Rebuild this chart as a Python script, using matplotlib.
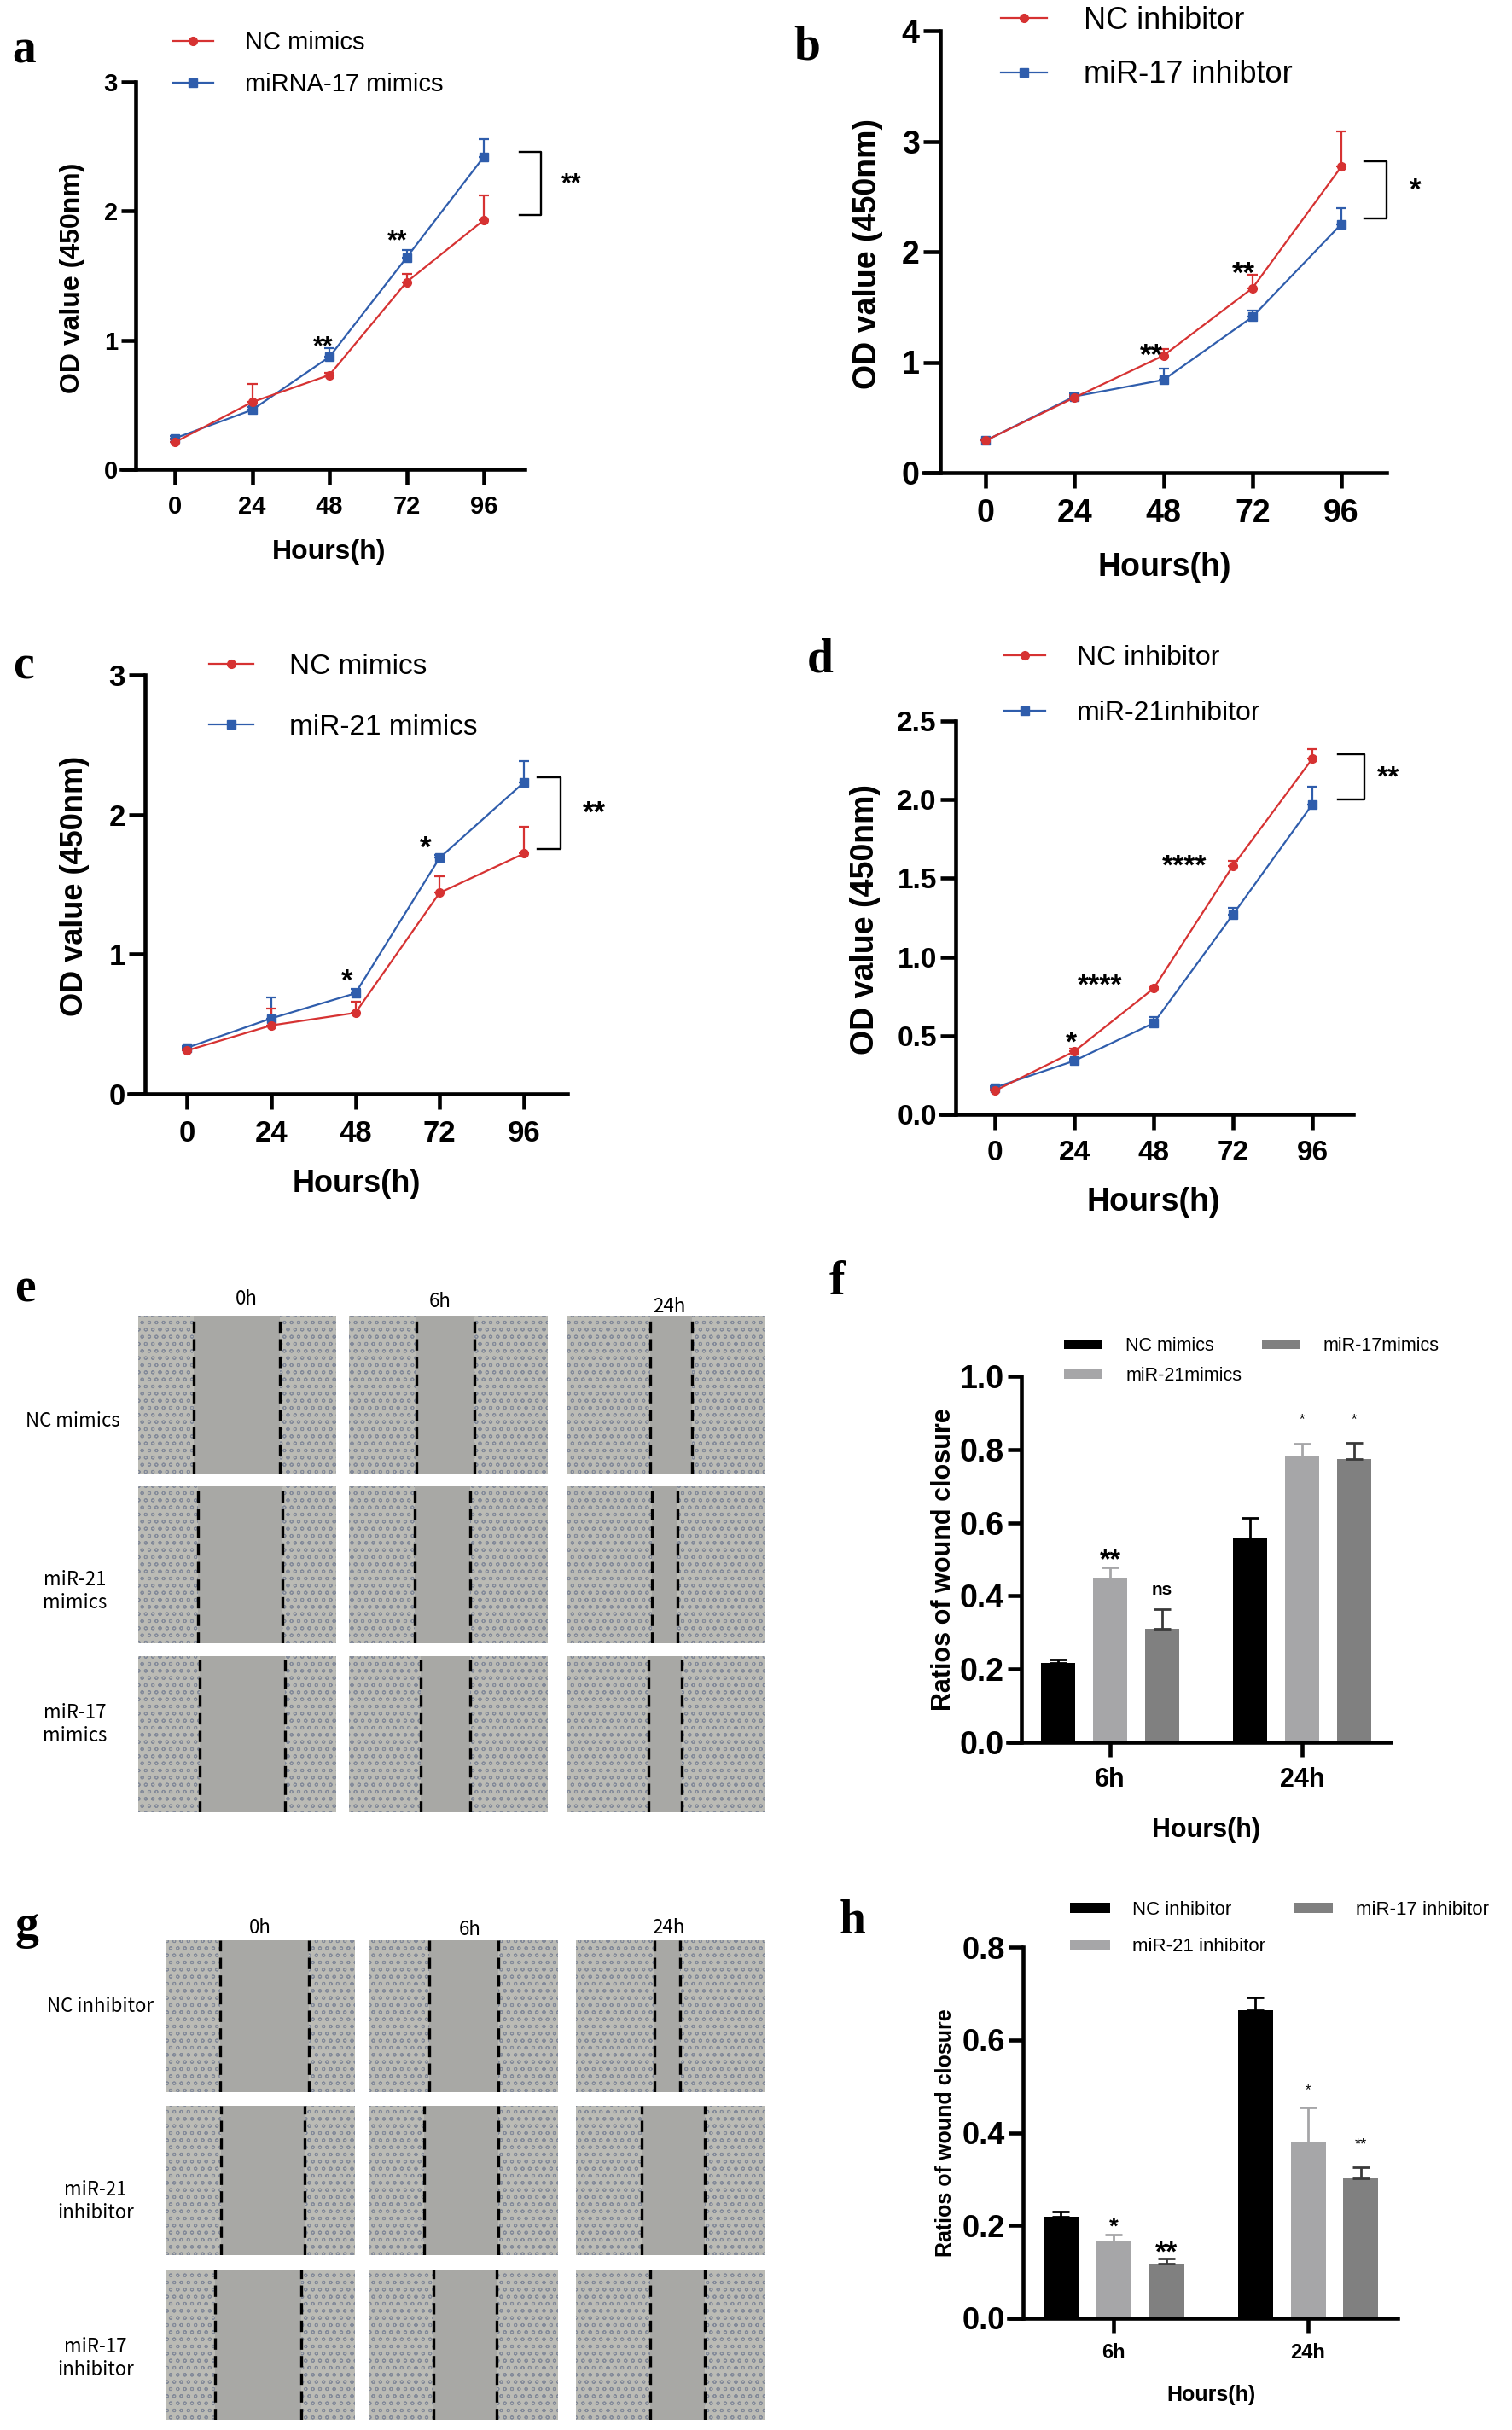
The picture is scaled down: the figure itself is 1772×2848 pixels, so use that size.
import matplotlib
matplotlib.use('Agg')
import matplotlib.pyplot as plt
from matplotlib.patches import Rectangle
import numpy as np

W, H = 1772, 2848

# CCK-8 time points
hours = [0, 24, 48, 72, 96]

# panel a: NC mimics vs miRNA-17 mimics
a_names = ['NC mimics', 'miRNA-17 mimics']
a_nc = [0.21, 0.52, 0.73, 1.45, 1.93]
a_nc_sd = [0.02, 0.14, 0.02, 0.06, 0.19]
a_mi = [0.24, 0.46, 0.87, 1.64, 2.42]
a_mi_sd = [0.02, 0.02, 0.07, 0.06, 0.14]
a_marks = [(46, 1.01, '**'), (69, 1.83, '**')]

# panel b: NC inhibitor vs miR-17 inhibitor
b_names = ['NC inhibitor', 'miR-17 inhibtor']
b_nc = [0.29, 0.68, 1.06, 1.67, 2.77]
b_nc_sd = [0.01, 0.02, 0.06, 0.12, 0.32]
b_mi = [0.29, 0.69, 0.84, 1.41, 2.25]
b_mi_sd = [0.01, 0.03, 0.10, 0.06, 0.14]
b_marks = [(44.7, 1.14, '**'), (69.6, 1.88, '**')]

# panel c: NC mimics vs miR-21 mimics
c_names = ['NC mimics', 'miR-21 mimics']
c_nc = [0.31, 0.49, 0.58, 1.44, 1.72]
c_nc_sd = [0.01, 0.12, 0.08, 0.12, 0.19]
c_mi = [0.33, 0.54, 0.72, 1.69, 2.23]
c_mi_sd = [0.01, 0.15, 0.03, 0.02, 0.15]
c_marks = [(45.5, 0.87, '*'), (68, 1.82, '*')]

# panel d: NC inhibitor vs miR-21 inhibitor
d_names = ['NC inhibitor', 'miR-21inhibitor']
d_nc = [0.15, 0.40, 0.80, 1.58, 2.26]
d_nc_sd = [0.01, 0.02, 0.01, 0.03, 0.06]
d_mi = [0.17, 0.34, 0.58, 1.27, 1.97]
d_mi_sd = [0.01, 0.01, 0.04, 0.04, 0.11]
d_marks = [(23, 0.51, '*'), (31.8, 0.87, '****'), (57.2, 1.63, '****')]

# wound closure bars
groups = ['6h', '24h']
f_names = ['NC mimics', 'miR-21mimics', 'miR-17mimics']
f_vals = [[0.216, 0.558], [0.447, 0.780], [0.310, 0.773]]
f_sds = [[0.011, 0.056], [0.030, 0.037], [0.053, 0.045]]
f_marks = [(0, 1, 0.52, '**', 23, 'bold'), (0, 2, 0.417, 'ns', 15, 'bold'),
           (1, 1, 0.895, '*', 12, 'normal'), (1, 2, 0.895, '*', 12, 'normal')]

h_names = ['NC inhibitor', 'miR-21 inhibitor', 'miR-17 inhibitor']
h_vals = [[0.218, 0.663], [0.166, 0.379], [0.118, 0.301]]
h_sds = [[0.011, 0.029], [0.014, 0.076], [0.011, 0.025]]
h_marks = [(0, 1, 0.213, '*', 20, 'bold'), (0, 2, 0.16, '**', 24, 'bold'),
           (1, 1, 0.502, '*', 12, 'normal'), (1, 2, 0.384, '**', 13, 'normal')]

# scratch photos: time columns, row names, wound edges as fraction of width
photo_times = ['0h', '6h', '24h']
e_rows = ['NC mimics', 'miR-21\nmimics', 'miR-17\nmimics']
e_gaps = [[(0.28, 0.715), (0.34, 0.63), (0.42, 0.63)],
          [(0.30, 0.73), (0.33, 0.61), (0.43, 0.56)],
          [(0.31, 0.74), (0.36, 0.61), (0.41, 0.58)]]
g_rows = ['NC inhibitor', 'miR-21\ninhibitor', 'miR-17\ninhibitor']
g_gaps = [[(0.285, 0.755), (0.315, 0.685), (0.416, 0.55)],
          [(0.29, 0.735), (0.29, 0.685), (0.347, 0.68)],
          [(0.26, 0.717), (0.34, 0.676), (0.39, 0.68)]]

RED = '#d63232'
BLUE = '#2f5dac'
BAR_COLORS = ['#000000', '#a6a6a8', '#808080']
ERR_COLORS = ['#000000', '#a6a6a8', '#3a3a3a']

plt.rcParams['font.family'] = ['Liberation Sans', 'DejaVu Sans']
plt.rcParams['hatch.linewidth'] = 0.7

fig = plt.figure(figsize=(W / 100, H / 100), dpi=100)
PT = 0.72  # points per pixel at 100 dpi


def px_axes(box):
    left, top, right, bottom = box
    return fig.add_axes([left / W, 1 - bottom / H, (right - left) / W, (bottom - top) / H])


def label_at(ax, box, xlab, ylab, xpos, ypos, fs):
    left, top, right, bottom = box
    ax.set_xlabel(xlab, fontsize=fs, fontweight='bold')
    ax.set_ylabel(ylab, fontsize=fs, fontweight='bold')
    ax.xaxis.set_label_coords((xpos[0] - left) / (right - left), (bottom - xpos[1]) / (bottom - top))
    ax.yaxis.set_label_coords((ypos[0] - left) / (right - left), (bottom - ypos[1]) / (bottom - top))
    ax.xaxis.label.set_va('center')
    ax.yaxis.label.set_va('center')


def mark(ax, x, y, s, size, weight='bold'):
    dy = -0.58 * size if '*' in s else -0.27 * size
    ax.annotate(s, (x, y), xytext=(0, dy), textcoords='offset points', ha='center',
                va='baseline', fontsize=size, fontweight=weight, annotation_clip=False)


def line_panel(box, t0, t96, yax, ymax, ystep, yfmt, nc, nc_sd, mi, mi_sd, names, marks,
               tick_fs, lab_fs, star_fs, xlab_pos, ylab_pos, leg, br, br_star):
    left, top, right, bottom = box
    ax = px_axes(box)
    k = (t96 - t0) / 96.0
    ax.set_xlim((left - t0) / k, (right - t0) / k)
    ax.set_ylim(0, ymax)
    ax.spines['left'].set_position(('data', (yax - t0) / k))
    for s in ('top', 'right'):
        ax.spines[s].set_visible(False)
    for s in ('left', 'bottom'):
        ax.spines[s].set_linewidth(3.3)
    ax.patch.set_visible(False)
    yt = np.arange(0, ymax + 1e-9, ystep)
    ax.set_xticks(hours, labels=[str(h) for h in hours], fontsize=tick_fs, fontweight='bold')
    ax.set_yticks(yt, labels=[yfmt.format(v) for v in yt], fontsize=tick_fs, fontweight='bold')
    ax.tick_params(axis='y', length=(yax - left) * PT, width=3.3, pad=3)
    ax.tick_params(axis='x', length=18 * PT, width=3.3, pad=9)

    zeros = np.zeros(len(hours))
    h_mi = ax.errorbar(hours, mi, yerr=[zeros, mi_sd], color=BLUE, marker='s', ms=7, lw=1.6,
                       capsize=4, elinewidth=1.6, capthick=1.6, clip_on=False)
    h_nc = ax.errorbar(hours, nc, yerr=[zeros, nc_sd], color=RED, marker='o', ms=7, lw=1.6,
                       capsize=4, elinewidth=1.6, capthick=1.6, clip_on=False)
    for x, y, s in marks:
        mark(ax, x, y, s, star_fs)

    # bracket at the last time point
    off = 0.012 * ymax
    y1 = max(nc[-1], mi[-1]) + off
    y2 = min(nc[-1], mi[-1]) + off
    xa = hours[-1] + br[0] / k
    xb = hours[-1] + br[1] / k
    ax.plot([xa, xb, xb, xa], [y1, y1, y2, y2], color='black', lw=1.7, clip_on=False)
    mark(ax, hours[-1] + br_star[1] / k, (y1 + y2) / 2 + 0.06 * ymax / 3, br_star[0], star_fs)

    label_at(ax, box, 'Hours(h)', 'OD value (450nm)', xlab_pos, ylab_pos, lab_fs)

    # legend shows only the line + marker, like the original
    lx, ly, lfs, hl, htp, ls = leg
    ax.legend([h_nc[0], h_mi[0]], names, loc='upper left', bbox_to_anchor=(lx / W, 1 - ly / H),
              bbox_transform=fig.transFigure, frameon=False, fontsize=lfs, handlelength=hl,
              handletextpad=htp, labelspacing=ls, borderpad=0, borderaxespad=0)
    return ax


def bar_panel(box, g0, g1, yax, ymax, vals, sds, names, marks, gap_px, width_px,
              tick_fs, grp_fs, lab_fs, xlab_pos, ylab_pos, leg):
    left, top, right, bottom = box
    ax = px_axes(box)
    k = float(g1 - g0)
    ax.set_xlim((left - g0) / k, (right - g0) / k)
    ax.set_ylim(0, ymax)
    ax.spines['left'].set_position(('data', (yax - g0) / k))
    for s in ('top', 'right'):
        ax.spines[s].set_visible(False)
    for s in ('left', 'bottom'):
        ax.spines[s].set_linewidth(3.3)
    ax.patch.set_visible(False)
    xs = np.arange(len(groups))
    step = gap_px / k
    bars = []
    for i in range(3):
        pos = xs + (i - 1) * step
        b = ax.bar(pos, vals[i], width=width_px / k, color=BAR_COLORS[i],
                   yerr=[np.zeros(len(groups)), sds[i]],
                   error_kw=dict(ecolor=ERR_COLORS[i], elinewidth=2, capsize=7, capthick=2),
                   zorder=2)
        bars.append(b)
    yt = np.arange(0, ymax + 1e-9, 0.2)
    ax.set_xticks(xs, labels=groups, fontsize=grp_fs, fontweight='bold')
    ax.set_yticks(yt, labels=['{:.1f}'.format(v) for v in yt], fontsize=tick_fs, fontweight='bold')
    ax.tick_params(axis='y', length=(yax - left) * PT, width=3.3, pad=3)
    ax.tick_params(axis='x', length=17 * PT, width=3.3, pad=9)
    for gi, si, y, s, fs, wt in marks:
        mark(ax, xs[gi] + (si - 1) * step, y, s, fs, wt)
    label_at(ax, box, 'Hours(h)', 'Ratios of wound closure', xlab_pos, ylab_pos, lab_fs)

    lx, ly, lfs, hl, htp, ls, cs = leg
    ax.legend(bars, names, ncol=2, loc='upper left', bbox_to_anchor=(lx / W, 1 - ly / H),
              bbox_transform=fig.transFigure, frameon=False, fontsize=lfs, handlelength=hl,
              handleheight=0.4, handletextpad=htp, labelspacing=ls, columnspacing=cs,
              borderpad=0, borderaxespad=0)
    return ax


def photo_grid(cols, rows, gaps, row_names, row_pos, head_pos):
    for r, (top, bottom) in enumerate(rows):
        for c, (left, right) in enumerate(cols):
            ax = px_axes((left, top, right, bottom))
            ax.set_xlim(0, 1)
            ax.set_ylim(0, 1)
            ax.axis('off')
            g_l, g_r = gaps[r][c]
            ax.add_patch(Rectangle((0, 0), 1, 1, facecolor='#bbbbb5', edgecolor='#838a99',
                                   hatch='oo', lw=0))
            ax.add_patch(Rectangle((g_l, 0), g_r - g_l, 1, facecolor='#a8a8a5', lw=0))
            for gx in (g_l, g_r):
                ax.axvline(gx, color='black', lw=2.4, ls=(0, (4, 2.2)))
    for name, (x, y) in zip(row_names, row_pos):
        fig.text(x / W, 1 - y / H, name, ha='center', va='center', fontsize=16,
                 family=['Noto Sans CJK SC', 'DejaVu Sans'], linespacing=1.25)
    for t, (x, y) in zip(photo_times, head_pos):
        fig.text(x / W, 1 - y / H, t, ha='center', va='center', fontsize=16,
                 family=['Noto Sans CJK SC', 'DejaVu Sans'])


# ---- CCK-8 line charts ----
line_panel((142, 96, 615, 550), 205, 567, 159, 3, 1, '{:.0f}', a_nc, a_nc_sd, a_mi, a_mi_sd,
           a_names, a_marks, 21, 23, 22, (386, 647), (85, 326),
           (203, 36, 21, 1.6, 1.28, 0.72), (42, 67), ('**', 103))
line_panel((1082, 36, 1625, 554), 1155, 1572, 1102, 4, 1, '{:.0f}', b_nc, b_nc_sd, b_mi, b_mi_sd,
           b_names, b_marks, 27, 27, 25, (1365, 665), (1017, 298),
           (1173, 7, 26, 1.5, 1.2, 0.78), (27, 53), ('*', 87))
line_panel((151, 791, 665, 1282), 219, 614, 170, 3, 1, '{:.0f}', c_nc, c_nc_sd, c_mi, c_mi_sd,
           c_names, c_marks, 25, 26, 25, (418, 1388), (88, 1038),
           (245, 766, 24, 1.57, 1.24, 1.2), (16, 43), ('**', 82))
line_panel((1102, 845, 1586, 1306), 1166, 1538, 1120, 2.5, 0.5, '{:.1f}', d_nc, d_nc_sd, d_mi,
           d_mi_sd, d_names, d_marks, 24, 27, 24, (1352, 1409), (1014, 1077),
           (1177, 756, 23, 1.5, 1.15, 1.1), (30, 61), ('**', 89))

# ---- wound-healing photos ----
photo_grid([(162, 394), (409, 642), (665, 896)], [(1542, 1727), (1742, 1926), (1941, 2124)],
           e_gaps, e_rows, [(85, 1665), (88, 1865), (88, 2021)],
           [(289, 1522), (516, 1526), (784, 1531)])
photo_grid([(195, 416), (433, 654), (675, 897)], [(2274, 2452), (2468, 2643), (2660, 2836)],
           g_gaps, g_rows, [(118, 2352), (112, 2580), (112, 2764)],
           [(305, 2260), (551, 2262), (783, 2260)])

# ---- wound closure bars ----
bar_panel((1181, 1613, 1630, 2042), 1301, 1526, 1197, 1.0, f_vals, f_sds, f_names, f_marks,
          61, 40, 27, 22, 22, (1414, 2145), (1106, 1828),
          (1247, 1567, 15.5, 2.05, 1.3, 0.65, 1.1))
bar_panel((1182, 2282, 1638, 2717), 1305, 1533, 1199, 0.8, h_vals, h_sds, h_names, h_marks,
          62, 41, 26, 17, 18, (1420, 2807), (1108, 2500),
          (1254, 2228, 16, 2.1, 1.2, 1.0, 1.45))

# panel letters
letters = ['a', 'b', 'c', 'd', 'e', 'f', 'g', 'h']
letter_pos = [(28, 60), (946, 56), (27, 781), (961, 774), (29, 1511), (981, 1503),
              (31, 2258), (999, 2252)]
for s, (x, y) in zip(letters, letter_pos):
    fig.text(x / W, 1 - y / H, s, ha='center', va='center', fontsize=40, fontweight='bold',
             family=['Liberation Serif', 'DejaVu Serif'])

fig.savefig('out.png', dpi=100)
